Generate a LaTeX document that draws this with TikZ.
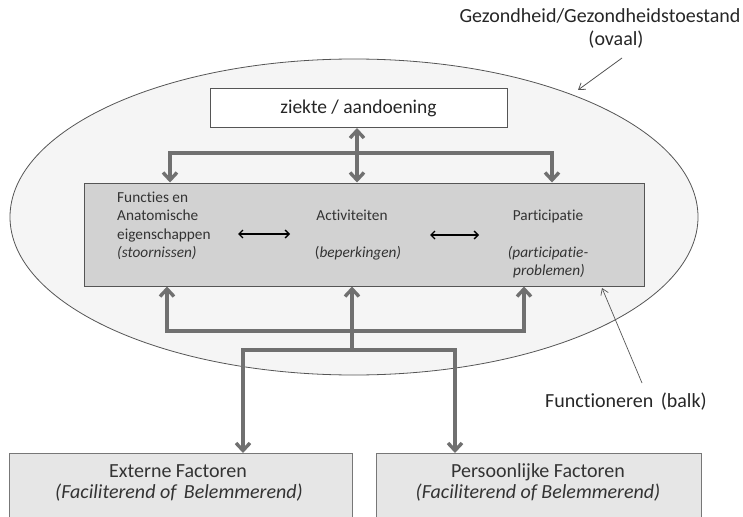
\documentclass[tikz,border=0pt]{standalone}
\usepackage{fontspec}
\setmainfont[Ligatures=NoCommon]{Carlito}
\usetikzlibrary{arrows.meta,shapes.geometric}
\definecolor{conn}{RGB}{112,112,112}
\definecolor{ovalfill}{RGB}{245,245,245}
\definecolor{barfill}{RGB}{210,210,210}
\definecolor{boxfill}{RGB}{230,230,230}
\definecolor{edge}{RGB}{85,85,85}
\begin{document}
\begin{tikzpicture}[x=1pt,y=-1pt,
  thickconn/.style={draw=conn,line width=3.4pt,line cap=butt},
  thickhead/.style={-{Straight Barb[length=7.5pt,width=14pt]}},
  smallarrow/.style={draw=black,line width=1.4pt,{Straight Barb[length=4pt,width=8pt]}-{Straight Barb[length=4pt,width=8pt]}},
  thinarrow/.style={draw=edge,line width=0.8pt,-{Straight Barb[length=6pt,width=8pt]}},
  lbl/.style={inner sep=0pt,anchor=base,font=\fontsize{20}{24}\selectfont,text=black!85},
  bartxt/.style={inner sep=0pt,anchor=base,font=\fontsize{15.3}{18}\selectfont,text=black!80},
  boxtxt/.style={inner sep=0pt,anchor=base,font=\fontsize{20}{24}\selectfont,text=black!80},
  ]
\useasboundingbox (0,0) rectangle (743,516);

% oval
\node[ellipse,draw=edge,line width=0.8pt,fill=ovalfill,minimum width=688pt,minimum height=316pt,inner sep=0pt] (oval) at (354,217) {};

% ziekte box
\node[draw=edge,line width=1pt,fill=white,minimum width=297pt,minimum height=39pt,inner sep=0pt,font=\fontsize{19.5}{23}\selectfont,text=black!85] (ziekte) at (358.5,108) {ziekte / aandoening};

% bar
\node[draw=edge,line width=1pt,fill=barfill,minimum width=560pt,minimum height=103pt,inner sep=0pt] (bar) at (364,234.5) {};

% bottom boxes
\node[draw=edge!80,line width=1pt,fill=boxfill,minimum width=343pt,minimum height=80pt,inner sep=0pt,anchor=north west] (ext) at (9,453) {};
\node[draw=edge!80,line width=1pt,fill=boxfill,minimum width=325pt,minimum height=80pt,inner sep=0pt,anchor=north west] (pers) at (376,453) {};

% header labels
\node[lbl] (gez) at (600,23) {Gezondheid/Gezondheidstoestand};
\node[lbl] (ovaal) at (616,46) {(ovaal)};
\coordinate (gezs) at (622,58);
\coordinate (gezt) at (578,90);
\draw[thinarrow] (gezs) -- (gezt);

\node[lbl,anchor=base west] (func) at (545,407) {Functioneren\hspace{3pt} (balk)};
\coordinate (funcs) at (642,383);
\coordinate (funct) at (602,288);
\draw[thinarrow,line width=0.7pt] (funcs) -- (funct);

% bar texts
\node[bartxt,anchor=base west] (f1) at (117,202) {Functies en};
\node[bartxt,anchor=base west] (f2) at (117,220.5) {Anatomische};
\node[bartxt,anchor=base west] (f3) at (117,239) {eigenschappen};
\node[bartxt,anchor=base west] (f4) at (117,257) {\itshape (stoornissen)};

\node[bartxt] (a1) at (352,220) {Activiteiten};
\node[bartxt] (a2) at (358,257) {(\textit{beperkingen)}};

\node[bartxt] (p1) at (548,220) {Participatie};
\node[bartxt] (p2) at (548,257) {\itshape (participatie-};
\node[bartxt] (p3) at (549,275) {\itshape problemen)};

\coordinate (d1l) at (238,234);
\coordinate (d1r) at (290,234);
\coordinate (d2l) at (430,235);
\coordinate (d2r) at (479,235);
\draw[smallarrow] (d1l) -- (d1r);
\draw[smallarrow] (d2l) -- (d2r);

% bottom box texts
\node[boxtxt] (e1) at (178,477) {Externe Factoren};
\node[boxtxt] (e2) at (179,498) {\itshape (Faciliterend of\hspace{3pt} Belemmerend)};
\node[boxtxt] (q1) at (538,477) {Persoonlijke Factoren};
\node[boxtxt] (q2) at (538,498) {\itshape (Faciliterend of Belemmerend)};

% top connectors
\draw[thickconn,{Straight Barb[length=7.5pt,width=14pt]}-{Straight Barb[length=7.5pt,width=14pt]}] (ziekte.south -| 357,0) -- (357,0 |- bar.north);
\coordinate (tl) at (170,153);
\coordinate (tr) at (552,153);
\draw[thickconn] ([xshift=-1.7pt]tl) -- ([xshift=1.7pt]tr);
\draw[thickconn,thickhead] (tl) -- (tl |- bar.north);
\draw[thickconn,thickhead] (tr) -- (tr |- bar.north);

% bottom connectors
\coordinate (bl) at (167,331);
\coordinate (br) at (524,331);
\coordinate (bc) at (352,350);
\draw[thickconn] ([xshift=-1.7pt]bl) -- ([xshift=1.7pt]br);
\draw[thickconn,thickhead] (bl) -- (bl |- bar.south);
\draw[thickconn,thickhead] (br) -- (br |- bar.south);
\draw[thickconn,thickhead] (bc) -- (bc |- bar.south);
\coordinate (el) at (243,350);
\coordinate (er) at (455,350);
\draw[thickconn] ([xshift=-1.7pt]el) -- ([xshift=1.7pt]er);
\draw[thickconn,thickhead] (el) -- (el |- ext.north);
\draw[thickconn,thickhead] (er) -- (er |- pers.north);
\end{tikzpicture}
\end{document}
